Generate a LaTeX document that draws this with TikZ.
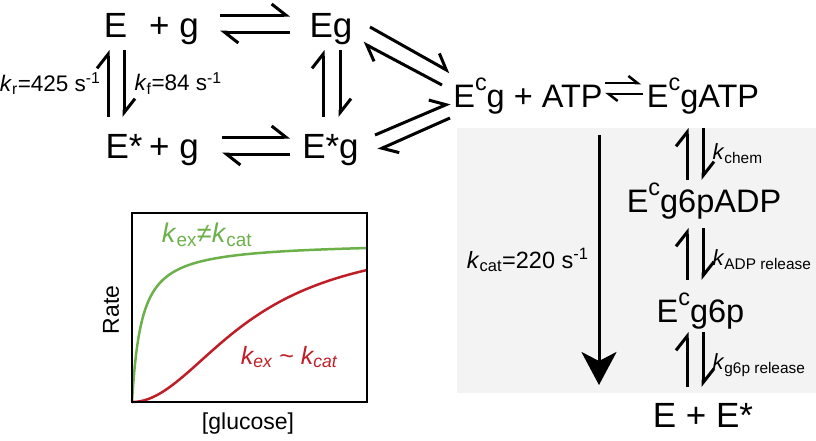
\documentclass[tikz,border=0pt]{standalone}
\usepackage{fontspec}
\setmainfont{Liberation Sans}
\usetikzlibrary{arrows.meta}

\definecolor{kgreen}{RGB}{108,176,74}
\definecolor{kred}{RGB}{192,30,38}
\definecolor{boxgray}{RGB}{243,243,243}

\newcommand{\supc}{\raisebox{0.5em}{\scalebox{0.72}{c}}}

\begin{document}
\begin{tikzpicture}[x=1pt,y=-1pt,
    species/.style={anchor=base,inner sep=0pt,font=\fontsize{35}{40}\selectfont},
    closed/.style={anchor=base,inner sep=0pt,font=\fontsize{32.5}{38}\selectfont},
    rate/.style={inner sep=4pt,font=\fontsize{22.5}{27}\selectfont},
    smallrate/.style={inner sep=5pt,font=\fontsize{22}{26}\selectfont},
    plotlab/.style={inner sep=0pt,font=\fontsize{27}{32}\selectfont},
    axislab/.style={inner sep=0pt,font=\fontsize{23}{28}\selectfont},
    hp/.style={line width=3pt,-{Straight Barb[left,length=14pt,width=22pt]}},
    hpsmall/.style={line width=2.5pt,-{Straight Barb[left,length=9pt,width=14pt]}}]
    \useasboundingbox (0,0) rectangle (816,440);

    \fill[boxgray] (457,128) rectangle (816,393);

    \node[species] (E) at (115.5,37) {E};
    \node[species] (Eplus) at (174,37) {+ g};
    \node[species] (Eg) at (331,37) {Eg};
    \node[species] (Es) at (124,158) {E*};
    \node[species] (Esplus) at (174,158) {+ g};
    \node[species] (Esg) at (330.5,158) {E*g};
    \node[closed] (Ecg) at (528,107) {E\supc g + ATP};
    \node[closed] (EcgATP) at (703,107) {E\supc gATP};
    \node[closed] (EcgADP) at (704,212) {E\supc g6pADP};
    \node[closed] (Ecgp) at (700.5,322) {E\supc g6p};
    \node[species] (EEs) at (703,427) {E + E*};

    \draw[hp] ([shift={(46,-22)}]Eplus.base) -- ([shift={(-41,-22)}]Eg.base);
    \draw[hp] ([shift={(-41,-5)}]Eg.base) -- ([shift={(46,-5)}]Eplus.base);
    \draw[hp] ([shift={(48,-21)}]Esplus.base) -- ([shift={(-40.5,-21)}]Esg.base);
    \draw[hp] ([shift={(-40.5,-4)}]Esg.base) -- ([shift={(48,-4)}]Esplus.base);

    \draw[hp] ([shift={(-16,-41)}]Es.base) -- node[rate,left=2pt]{\textit{k}\textsubscript{r}=425 s\textsuperscript{-1}} ([shift={(-7.5,13)}]E.base);
    \draw[hp] ([shift={(8.5,13)}]E.base) -- node[rate,right=5pt]{\textit{k}\textsubscript{f}=84 s\textsuperscript{-1}} ([shift={(0,-41)}]Es.base);
    \draw[hp] ([shift={(-7.5,-41)}]Esg.base) -- ([shift={(-8,13)}]Eg.base);
    \draw[hp] ([shift={(9,13)}]Eg.base) -- ([shift={(9.5,-41)}]Esg.base);

    \draw[hp] ([shift={(39,-10)}]Eg.base) -- ([shift={(-78,-35)}]Ecg.base);
    \draw[hp] ([shift={(-86,-22)}]Ecg.base) -- ([shift={(32,6)}]Eg.base);
    \draw[hp] ([shift={(44.5,-23)}]Esg.base) -- ([shift={(-78,-4)}]Ecg.base);
    \draw[hp] ([shift={(-78,11)}]Ecg.base) -- ([shift={(47.5,-8)}]Esg.base);

    \draw[hpsmall] ([shift={(77,-24)}]Ecg.base) -- ([shift={(-62,-24)}]EcgATP.base);
    \draw[hpsmall] ([shift={(-60,-13)}]EcgATP.base) -- ([shift={(77,-13)}]Ecg.base);

    \draw[hp] ([shift={(-17,-32)}]EcgADP.base) -- ([shift={(-16,21)}]EcgATP.base);
    \draw[hp] ([shift={(0,21)}]EcgATP.base) -- node[smallrate,right=3pt]{\textit{k}\textsubscript{chem}} ([shift={(-1,-32)}]EcgADP.base);
    \draw[hp] ([shift={(-13.5,-42)}]Ecgp.base) -- ([shift={(-17,16)}]EcgADP.base);
    \draw[hp] ([shift={(-1,16)}]EcgADP.base) -- node[smallrate,right=3pt,pos=0.6]{\textit{k}\textsubscript{ADP release}} ([shift={(2.5,-42)}]Ecgp.base);
    \draw[hp] ([shift={(-16,-40)}]EEs.base) -- ([shift={(-13.5,10)}]Ecgp.base);
    \draw[hp] ([shift={(2.5,10)}]Ecgp.base) -- node[smallrate,right=3pt,pos=0.6]{\textit{k}\textsubscript{g6p release}} ([shift={(0,-40)}]EEs.base);

    \draw[line width=3pt,-{Stealth[length=33pt,width=35pt,inset=9pt]}] ([shift={(71,28)}]Ecg.base) -- node[rate,font=\fontsize{23.5}{28}\selectfont,left=5pt]{\textit{k}\textsubscript{cat}=220 s\textsuperscript{-1}} ([shift={(-104,-42)}]EEs.base);

    \draw[kgreen,line width=2.5pt] plot[domain=0:1.533,samples=150] ({132+100*\x*\x},{402-160.3*\x*\x/(0.0966+\x*\x)});
    \draw[kred,line width=2.5pt] plot[domain=0:2.35,samples=100] ({132+100*\x},{402-166.4*\x*\x/(1.44+\x*\x)});
    \draw[line width=2pt] (132,213) rectangle (367,402);
    \node[axislab,rotate=90] (rate) at (111,310) {Rate};
    \node[axislab] (glucose) at (248,424) {[glucose]};
    \node[plotlab,text=kgreen] (fast) at (207,235) {\textit{k}\textsubscript{ex}≠\textit{k}\textsubscript{cat}};
    \node[plotlab,font=\fontsize{25}{30}\selectfont,text=kred] (slow) at (289,357) {\textit{k\textsubscript{ex}} \textasciitilde{} \textit{k\textsubscript{cat}}};
\end{tikzpicture}
\end{document}
